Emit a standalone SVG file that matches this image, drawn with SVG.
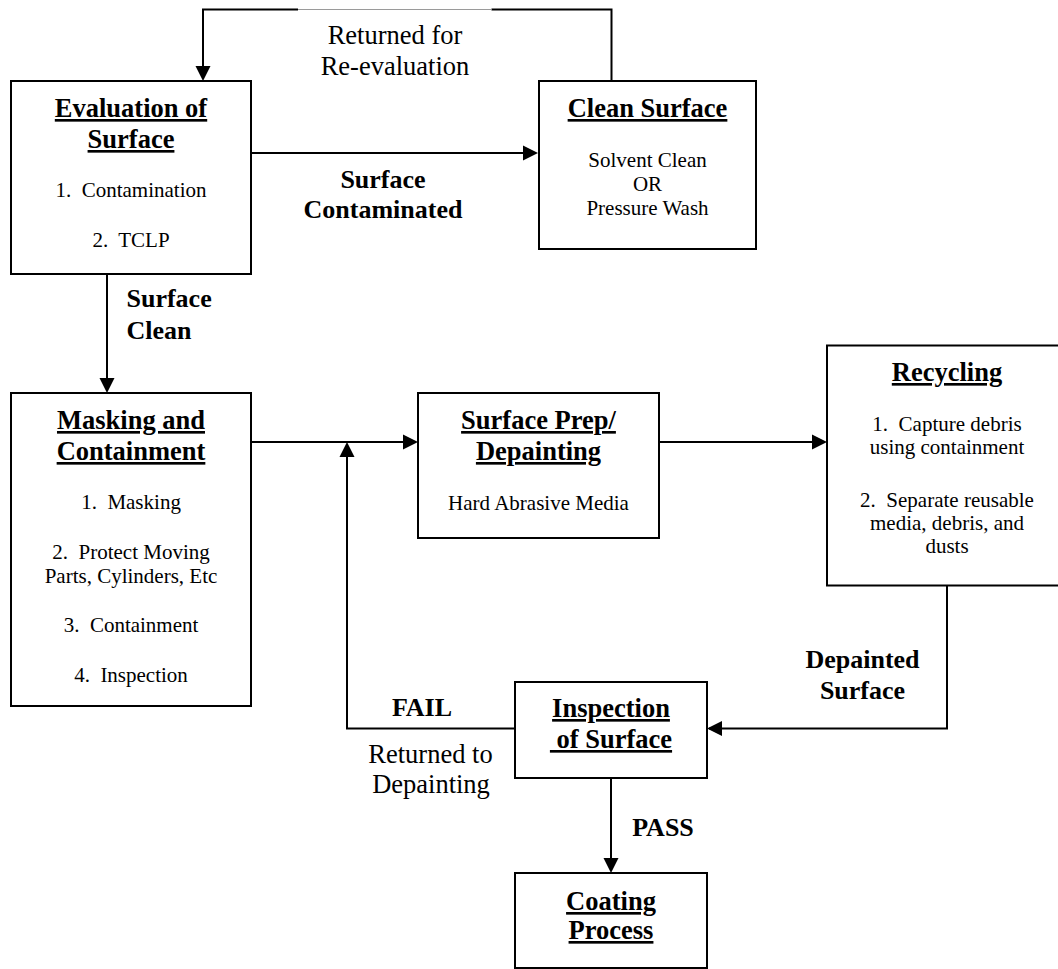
<svg xmlns="http://www.w3.org/2000/svg" width="1058" height="969" viewBox="0 0 1058 969">
  <style>
    text { font-family: "Liberation Serif", "Times New Roman", serif; fill: #000; }
    .title { font-size: 26.5px; font-weight: bold; text-anchor: middle; text-decoration: underline; text-decoration-thickness: 2px; text-underline-offset: 4px; }
    .body { font-size: 21px; text-anchor: middle; }
    .lbl { font-size: 26px; font-weight: bold; }
    .note { font-size: 26.5px; text-anchor: middle; }
    .box { fill: #fff; stroke: #000; stroke-width: 2; }
    .wire { fill: none; stroke: #000; stroke-width: 2; }
  </style>
  <defs>
    <marker id="arrow" markerUnits="userSpaceOnUse" markerWidth="15" markerHeight="15" refX="13" refY="7.5" orient="auto" overflow="visible">
      <path d="M0,0 L15,7.5 L0,15 Z" fill="#000"/>
    </marker>
  </defs>
  <rect width="1058" height="969" fill="#fff"/>

  <!-- connectors -->
  <g id="connectors">
    <!-- return loop from cleaning back to evaluation -->
    <path class="wire" d="M611.5,81 V9.5 H491.5"/>
    <line x1="491.5" y1="9.5" x2="298" y2="9.5" stroke="#9a9a9a" stroke-width="1"/>
    <path class="wire" d="M298,9.5 H203 V79" marker-end="url(#arrow)"/>
    <!-- evaluation to clean surface -->
    <path class="wire" d="M251,153 H536" marker-end="url(#arrow)"/>
    <!-- evaluation to masking -->
    <path class="wire" d="M107,274 V391" marker-end="url(#arrow)"/>
    <!-- masking to surface prep -->
    <path class="wire" d="M251,442 H416" marker-end="url(#arrow)"/>
    <!-- surface prep to recycling -->
    <path class="wire" d="M659,442 H825" marker-end="url(#arrow)"/>
    <!-- recycling to inspection -->
    <path class="wire" d="M947,586 V728.5 H709" marker-end="url(#arrow)"/>
    <!-- failed inspection back to depainting -->
    <path class="wire" d="M515,728.5 H347 V444" marker-end="url(#arrow)"/>
    <!-- passed inspection to coating -->
    <path class="wire" d="M611,778 V871" marker-end="url(#arrow)"/>
  </g>

  <!-- connector labels -->
  <g id="labels">
    <text class="note" x="395" y="44">Returned for</text>
    <text class="note" x="395" y="75">Re-evaluation</text>
    <text class="lbl" x="383" y="188" text-anchor="middle">Surface</text>
    <text class="lbl" x="383" y="218" text-anchor="middle">Contaminated</text>
    <text class="lbl" x="126.5" y="307">Surface</text>
    <text class="lbl" x="126.5" y="339">Clean</text>
    <text class="lbl" x="862.5" y="668" text-anchor="middle">Depainted</text>
    <text class="lbl" x="862.5" y="699" text-anchor="middle">Surface</text>
    <text class="lbl" x="422" y="716" text-anchor="middle">FAIL</text>
    <text class="note" x="430.5" y="763">Returned to</text>
    <text class="note" x="431" y="793">Depainting</text>
    <text class="lbl" x="663" y="836" text-anchor="middle">PASS</text>
  </g>

  <g id="evaluation">
    <rect class="box" x="11" y="81" width="240" height="193"/>
    <text class="title" x="131" y="117">Evaluation of</text>
    <text class="title" x="131" y="148">Surface</text>
    <text class="body" x="131" y="197" xml:space="preserve">1.  Contamination</text>
    <text class="body" x="131" y="247" xml:space="preserve">2.  TCLP</text>
  </g>

  <g id="clean-surface">
    <rect class="box" x="539" y="81" width="217" height="168"/>
    <text class="title" x="647.5" y="117">Clean Surface</text>
    <text class="body" x="647.5" y="167">Solvent Clean</text>
    <text class="body" x="647.5" y="191">OR</text>
    <text class="body" x="647.5" y="215">Pressure Wash</text>
  </g>

  <g id="masking">
    <rect class="box" x="11" y="393" width="240" height="313"/>
    <text class="title" x="131" y="429">Masking and</text>
    <text class="title" x="131" y="460">Containment</text>
    <text class="body" x="131" y="509" xml:space="preserve">1.  Masking</text>
    <text class="body" x="131" y="559" xml:space="preserve">2.  Protect Moving</text>
    <text class="body" x="131" y="583">Parts, Cylinders, Etc</text>
    <text class="body" x="131" y="632" xml:space="preserve">3.  Containment</text>
    <text class="body" x="131" y="682" xml:space="preserve">4.  Inspection</text>
  </g>

  <g id="surface-prep">
    <rect class="box" x="418" y="393" width="241" height="145"/>
    <text class="title" x="538.5" y="429">Surface Prep/</text>
    <text class="title" x="538.5" y="460">Depainting</text>
    <text class="body" x="538.5" y="510">Hard Abrasive Media</text>
  </g>

  <g id="recycling">
    <rect class="box" x="827" y="345.5" width="240" height="240"/>
    <text class="title" x="947" y="381">Recycling</text>
    <text class="body" x="947" y="431" xml:space="preserve">1.  Capture debris</text>
    <text class="body" x="947" y="454">using containment</text>
    <text class="body" x="947" y="507" xml:space="preserve">2.  Separate reusable</text>
    <text class="body" x="947" y="530">media, debris, and</text>
    <text class="body" x="947" y="553">dusts</text>
  </g>

  <g id="inspection">
    <rect class="box" x="515" y="682" width="192" height="96"/>
    <text class="title" x="611" y="717">Inspection</text>
    <text class="title" x="611" y="748" xml:space="preserve"> of Surface</text>
  </g>

  <g id="coating">
    <rect class="box" x="515" y="873" width="192" height="95"/>
    <text class="title" x="611" y="910">Coating</text>
    <text class="title" x="611" y="939">Process</text>
  </g>
</svg>
